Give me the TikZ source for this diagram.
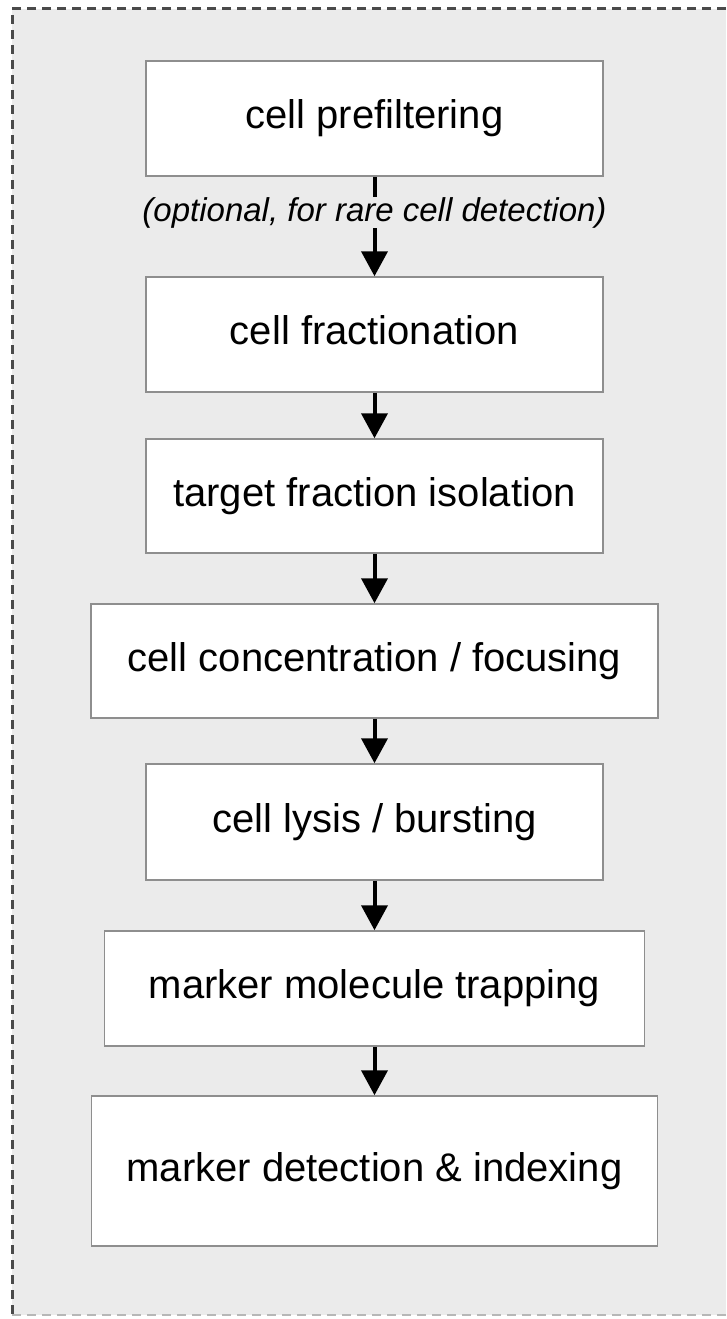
\documentclass[tikz,border=0pt]{standalone}
\usepackage{fontspec}
\setmainfont{Liberation Sans}
\usetikzlibrary{positioning}
\usetikzlibrary{arrows.meta}
\definecolor{panel}{HTML}{EBEBEB}
\definecolor{boxline}{HTML}{8E8E8E}
\definecolor{dashline}{HTML}{4A4A4A}

\begin{document}
\begin{tikzpicture}[x=1pt,y=-1pt]
    \useasboundingbox (0,0) rectangle (726,1319);
    \fill[panel] (12,9) rectangle (726,1315);
    \draw[dashline, line width=3pt, dash pattern=on 9pt off 6pt] (726,9) -- (12,9) -- (12,1315);
    \draw[dashline!40, line width=2pt, dash pattern=on 9pt off 6pt] (12,1315) -- (726,1315);

    \tikzstyle{stage} = [draw=boxline, line width=1.5pt, fill=white, inner sep=0pt,
        minimum width=457pt, minimum height=115pt,
        font=\fontsize{40}{48}\selectfont, text height=29pt, text depth=8.4pt]
    \tikzstyle{flow} = [line width=4pt, -{Triangle[length=25pt,width=26pt]}]

    \node[stage] (prefilter) at (374.5,118.5) {cell prefiltering};
    \node[stage] (fraction) at (374.5,334.5) {cell fractionation};
    \node[stage, minimum height=114pt] (isolate) at (374.5,496) {target fraction isolation};
    \node[stage, minimum width=567pt, minimum height=114pt] (focus) at (374.5,661) {cell concentration / focusing};
    \node[stage, minimum height=116pt] (lysis) at (374.5,822) {cell lysis / bursting};
    \node[stage, minimum width=540pt] (trap) at (374.5,988.5) {marker molecule trapping};
    \node[stage, minimum width=566pt, minimum height=150pt] (detect) at (374.5,1171) {marker detection \& indexing};

    \draw[flow] (prefilter) -- node[pos=0.36, fill=panel, inner sep=0pt,
        font=\fontsize{33}{40}\selectfont\itshape] (optnote) {(optional, for rare cell detection)} (fraction);
    \draw[flow] (fraction) -- (isolate);
    \draw[flow] (isolate) -- (focus);
    \draw[flow] (focus) -- (lysis);
    \draw[flow] (lysis) -- (trap);
    \draw[flow] (trap) -- (detect);
\end{tikzpicture}
\end{document}
